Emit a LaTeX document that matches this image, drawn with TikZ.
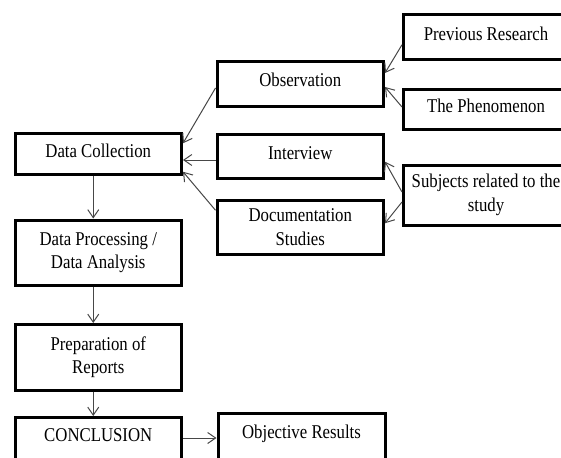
\documentclass[tikz,border=0pt]{standalone}
\usepackage{fontspec}
\setmainfont{Liberation Serif}[FakeStretch=0.86]
\usetikzlibrary{arrows.meta}
\begin{document}
\begin{tikzpicture}[x=1pt,y=-1pt,
  box/.style={draw=black, line width=3pt, fill=white, inner sep=0pt, align=center,
    font=\fontsize{19.5}{23.5}\selectfont},
  one/.style={text height=13.5pt, text depth=7.5pt},
  conn/.style={draw=black!72, line width=1pt, -{Straight Barb[length=8pt,width=11pt]}}]
\useasboundingbox (0,0) rectangle (561,457);
\clip (0,0) rectangle (561,457);
\fill[white] (0,0) rectangle (561,457);
% left column
\node[box, one, minimum width=166.5pt, minimum height=40.5pt] (dc) at (98.25,154.25) {Data Collection};
\node[box, minimum width=166.5pt, minimum height=65pt] (dp) at (98.25,252.5) {Data Processing /\\Data Analysis};
\node[box, minimum width=166.5pt, minimum height=65.5pt] (prep) at (98.25,357.25) {Preparation of\\Reports};
\node[box, text height=13.5pt, text depth=25.5pt, minimum width=166.5pt, minimum height=60pt] (conc) at (98.25,447.5) {CONCLUSION};
% middle column
\node[box, one, minimum width=166.5pt, minimum height=45pt] (obs) at (300.25,84) {Observation};
\node[box, one, minimum width=166.5pt, minimum height=43.5pt] (iv) at (300.25,156.75) {Interview};
\node[box, minimum width=166.5pt, minimum height=54.5pt] (doc) at (300.25,227.25) {Documentation\\Studies};
\node[box, text height=13.5pt, text depth=23pt, minimum width=167pt, minimum height=60pt] (orr) at (301.5,443) {Objective Results};
% right column
\node[box, one, minimum width=165pt, minimum height=44.5pt] (prev) at (486,37.25) {Previous Research};
\node[box, one, minimum width=165pt, minimum height=40pt] (phen) at (486,110) {The Phenomenon};
\node[box, minimum width=165pt, minimum height=60pt] (subj) at (486,195) {Subjects related to the\\study};
% connectors
\draw[conn] ([yshift=-4pt]obs.west) -- ([yshift=11pt]dc.east);
\draw[conn] ([yshift=-3.25pt]iv.west) -- ([yshift=-5.75pt]dc.east);
\draw[conn] ([yshift=17pt]doc.west) -- ([yshift=-17.5pt]dc.east);
\draw[conn] ([yshift=-7.5pt]prev.west) -- ([yshift=11pt]obs.east);
\draw[conn] ([yshift=3pt]phen.west) -- ([yshift=-3pt]obs.east);
\draw[conn] ([yshift=3pt]subj.west) -- ([yshift=-5pt]iv.east);
\draw[conn] ([yshift=-7pt]subj.west) -- ([yshift=4pt]doc.east);
\draw[conn] ([xshift=-5pt]dc.south) -- ([xshift=-5pt]dp.north);
\draw[conn] ([xshift=-5pt]dp.south) -- ([xshift=-5pt]prep.north);
\draw[conn] ([xshift=-5pt]prep.south) -- ([xshift=-5pt]conc.north);
\draw[conn] ([yshift=9.5pt]conc.east) -- ([yshift=5pt]orr.west);
\end{tikzpicture}
\end{document}
